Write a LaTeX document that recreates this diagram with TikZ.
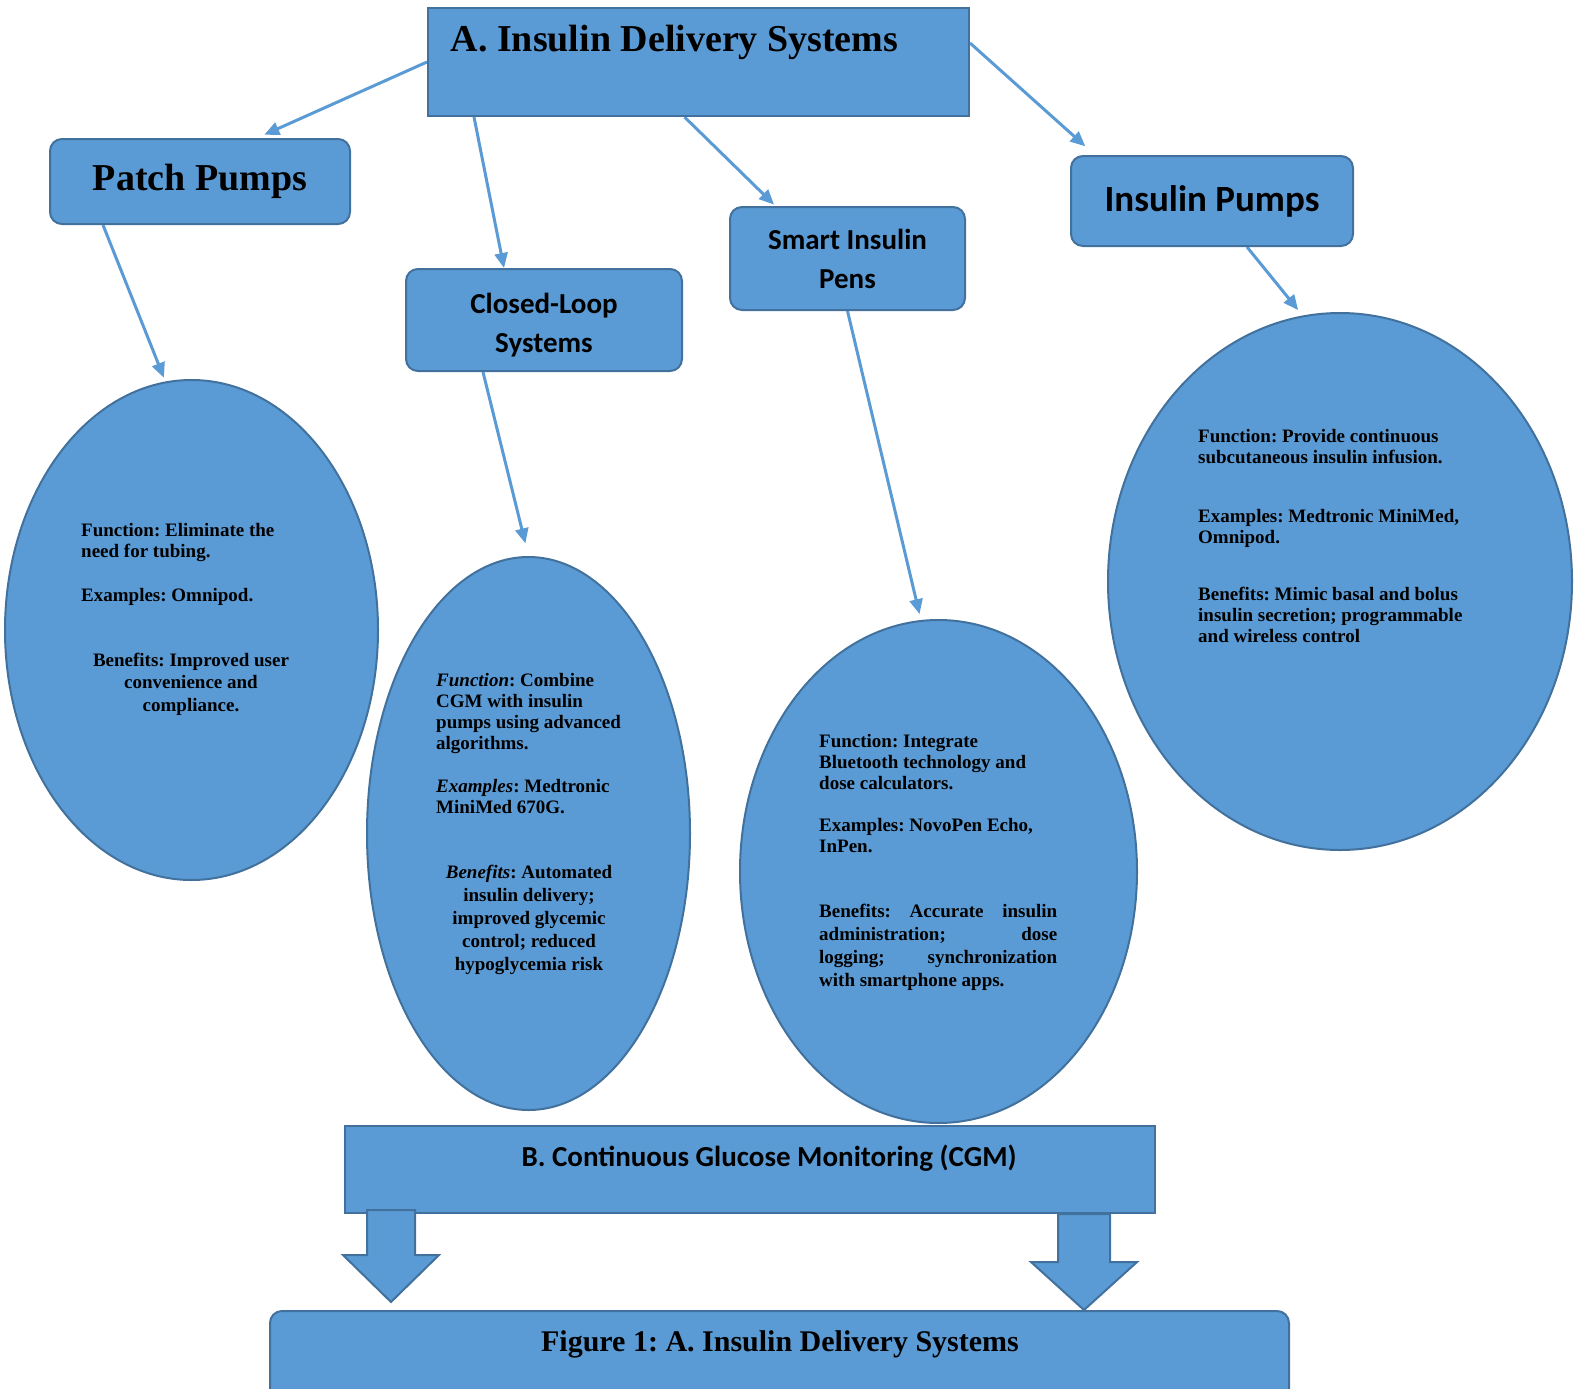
\documentclass[tikz,border=0pt]{standalone}
\usepackage{fontspec}
\setmainfont{Liberation Serif}
\newfontfamily\calfont{Carlito}
\usetikzlibrary{arrows.meta, shapes.geometric, backgrounds}
\definecolor{officeblue}{HTML}{5B9BD5}
\definecolor{edgeblue}{HTML}{41719C}
\frenchspacing

\begin{document}
\begin{tikzpicture}[x=1pt, y=-1pt,
	shape fill/.style = {fill=officeblue, draw=edgeblue, line width=2pt},
	rbox/.style = {shape fill, rounded corners=12pt, inner sep=0pt},
	sqbox/.style = {shape fill, inner sep=0pt},
	oval/.style = {shape fill, ellipse, inner sep=0pt},
	link/.style = {draw=officeblue, line width=3pt, -{Triangle[length=15pt, width=13pt]}},
	block/.style = {shape fill, line join=miter},
	serifbig/.style = {font=\fontsize{38}{40}\selectfont\bfseries},
	sansmid/.style = {font=\calfont\fontsize{29}{39}\selectfont\bfseries, align=center, inner sep=0pt},
	body/.style = {font=\fontsize{19}{21}\selectfont\bfseries, inner sep=0pt, align=left, anchor=base west},
	bodymid/.style = {font=\fontsize{19}{23}\selectfont\bfseries, inner sep=0pt, align=center, anchor=base}
]
\path[use as bounding box, clip] (0, 0) rectangle (1580, 1389);

% top box and its four branches
\node[sqbox, minimum width=541pt, minimum height=108pt] (ids) at (698.5, 62) {};
\node[serifbig, anchor=base, inner sep=0pt] (ids-t) at (674.5, 52) {A. Insulin Delivery Systems};

\node[rbox, serifbig, minimum width=300pt, minimum height=85pt] (patch) at (200, 181.5) {Patch Pumps};
\node[rbox, minimum width=276pt, minimum height=102pt] (loop) at (544, 320) {};
\node[sansmid] (loop-t) at (544, 325) {Closed-Loop\\Systems};
\node[rbox, sansmid, minimum width=235pt, minimum height=103pt] (pens) at (847.5, 258.5) {Smart Insulin\\Pens};
\node[rbox, font=\calfont\fontsize{37}{40}\selectfont\bfseries, minimum width=282pt, minimum height=90pt] (pumps) at (1212, 201) {Insulin Pumps};

% ovals
\node[oval, minimum width=373pt, minimum height=500pt] (patch-e) at (191.5, 630) {};
\node[oval, minimum width=323pt, minimum height=553pt] (loop-e) at (528.5, 833.5) {};
\node[oval, minimum width=397pt, minimum height=503pt] (pens-e) at (938.5, 871.5) {};
\node[oval, minimum width=464pt, minimum height=537pt] (pumps-e) at (1340, 581.5) {};

% base of a multi-line node = its last line
\node[body] (patch-fn) at (81, 557) {Function: Eliminate the\\need for tubing.};
\node[body] (patch-ex) at (81, 601) {Examples: Omnipod.};
\node[bodymid, font=\fontsize{19}{22.5}\selectfont\bfseries] (patch-bn) at (191, 711) {Benefits: Improved user\\convenience and\\compliance.};

\node[body] (loop-fn) at (436, 749) {\textit{Function}: Combine\\CGM with insulin\\pumps using advanced\\algorithms.};
\node[body] (loop-ex) at (436, 813) {\textit{Examples}: Medtronic\\MiniMed 670G.};
\node[bodymid] (loop-bn) at (529, 970) {\textit{Benefits}: Automated\\insulin delivery;\\improved glycemic\\control; reduced\\hypoglycemia risk};

\node[body] (pens-fn) at (819, 789) {Function: Integrate\\Bluetooth technology and\\dose calculators.};
\node[body] (pens-ex) at (819, 852) {Examples: NovoPen Echo,\\InPen.};
\node[body, font=\fontsize{19}{23}\selectfont\bfseries, text width=238pt, align=justify] (pens-bn) at (819, 917)
	{\noindent Benefits: Accurate insulin\linebreak administration; dose\linebreak logging; synchronization\linebreak with smartphone apps.};

\node[body] (pumps-fn) at (1198, 463) {Function: Provide continuous\\subcutaneous insulin infusion.};
\node[body] (pumps-ex) at (1198, 543) {Examples: Medtronic MiniMed,\\Omnipod.};
\node[body] (pumps-bn) at (1198, 642) {Benefits: Mimic basal and bolus\\insulin secretion; programmable\\and wireless control};

\begin{scope}[on background layer]
\draw[link, shorten >=8pt] (ids.west) -- ([xshift=57pt]patch.north);
\draw[link] ([xshift=47pt]ids.south west) -- ([xshift=-40pt]loop.north);
\draw[link, shorten >=2pt] ([xshift=-14pt]ids.south) -- ([xshift=-72pt]pens.north);
\draw[link, shorten >=13pt] ([yshift=19pt]ids.east) -- ([xshift=-117pt]pumps.north);
\draw[link, shorten >=4pt] ([xshift=54pt]patch.south west) -- (patch-e.96);
\draw[link, shorten >=13pt] ([xshift=-61pt]loop.south) -- (loop-e.north);
\draw[link, shorten >=6pt] (pens.south) -- (pens-e.94);
\draw[link, shorten >=7pt] ([xshift=35pt]pumps.south) -- (pumps-e.98);
\end{scope}

% CGM bar and caption
\node[sqbox, minimum width=810pt, minimum height=87pt] (cgm) at (750, 1169.5) {};
\node[font=\calfont\fontsize{29}{32}\selectfont\bfseries, anchor=base, inner sep=0pt] (cgm-t) at (769, 1166) {B. Continuous Glucose Monitoring (CGM)};
\node[rbox, minimum width=1019pt, minimum height=108pt] (cap) at (779.5, 1365) {};
\node[font=\fontsize{30}{32}\selectfont\bfseries, anchor=base, inner sep=0pt] (cap-t) at (780, 1351) {Figure 1: A. Insulin Delivery Systems};

\draw[block] (367, 1210) -- (415, 1210) -- (415, 1255) -- (439, 1255) -- (391, 1302)
	-- (343, 1255) -- (367, 1255) -- cycle;
\draw[block] (1058, 1214) -- (1110, 1214) -- (1110, 1262) -- (1137, 1262) -- (1084, 1310)
	-- (1031, 1262) -- (1058, 1262) -- cycle;
\end{tikzpicture}
\end{document}
